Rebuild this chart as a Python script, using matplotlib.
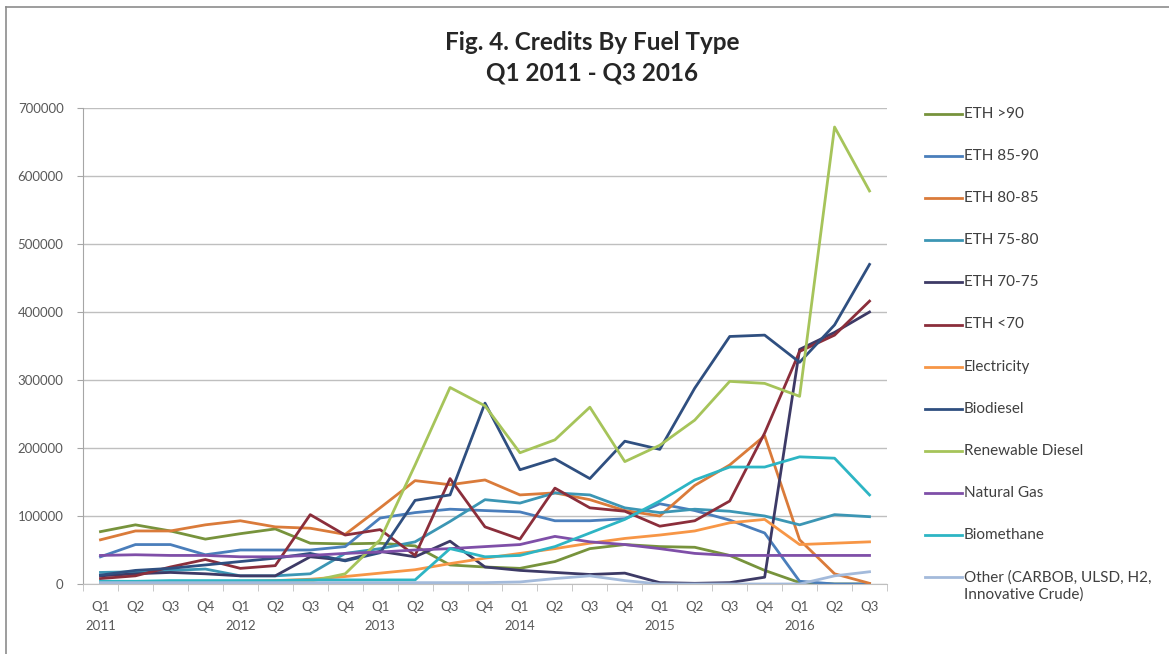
import numpy as np
import matplotlib
matplotlib.use("Agg")
import matplotlib.pyplot as plt
from matplotlib.lines import Line2D

plt.rcParams['font.family'] = ['Lato', 'DejaVu Sans']

# Quarterly periods, Q1 2011 .. Q3 2016
quarter_labels = ["Q1", "Q2", "Q3", "Q4"] * 5 + ["Q1", "Q2", "Q3"]
year_labels = ["2011", "2012", "2013", "2014", "2015", "2016"]

eth_gt90 = [77000, 87000, 78000, 66000, 74000, 81000, 60000, 59000, 60000, 56000,
            28000, 25000, 23000, 33000, 52000, 58000, 55000, 54000, 42000, 20000,
            2000, 0, 0]
eth_85_90 = [40000, 58000, 58000, 43000, 50000, 50000, 50000, 55000, 97000, 105000,
             110000, 108000, 106000, 93000, 93000, 96000, 118000, 108000, 94000, 75000,
             4000, 0, 0]
eth_80_85 = [65000, 78000, 78000, 87000, 93000, 84000, 82000, 73000, 112000, 152000,
             146000, 153000, 131000, 134000, 124000, 108000, 100000, 145000, 175000, 218000,
             65000, 15000, 1000]
eth_75_80 = [17000, 18000, 20000, 22000, 12000, 12000, 15000, 45000, 52000, 62000,
             92000, 124000, 119000, 134000, 131000, 112000, 105000, 110000, 107000, 100000,
             87000, 102000, 99000]
eth_70_75 = [12000, 15000, 17000, 15000, 12000, 12000, 40000, 35000, 48000, 40000,
             63000, 25000, 20000, 17000, 14000, 16000, 2000, 1000, 2000, 10000,
             345000, 370000, 400000]
eth_lt70 = [8000, 12000, 25000, 36000, 23000, 27000, 102000, 72000, 80000, 42000,
            155000, 84000, 66000, 141000, 112000, 107000, 85000, 93000, 122000, 222000,
            342000, 366000, 416000]
electricity = [1000, 1500, 2000, 3000, 4000, 5000, 7000, 11000, 16000, 21000,
               30000, 38000, 45000, 52000, 60000, 67000, 72000, 78000, 90000, 95000,
               58000, 60000, 62000]
biodiesel = [13000, 20000, 23000, 28000, 33000, 38000, 45000, 34000, 46000, 123000,
             131000, 266000, 168000, 184000, 155000, 210000, 198000, 288000, 364000, 366000,
             326000, 381000, 470000]
renewable_diesel = [3000, 3000, 3000, 3000, 3000, 3000, 4000, 15000, 65000, 175000,
                    289000, 262000, 193000, 212000, 260000, 180000, 204000, 241000, 298000, 295000,
                    276000, 672000, 578000]
natural_gas = [42000, 43000, 42000, 42000, 40000, 40000, 42000, 45000, 47000, 50000,
               52000, 55000, 58000, 70000, 62000, 58000, 52000, 45000, 42000, 42000,
               42000, 42000, 42000]
biomethane = [4000, 4000, 5000, 5000, 5000, 5000, 6000, 6000, 6000, 6000,
              52000, 40000, 42000, 55000, 75000, 95000, 122000, 153000, 172000, 172000,
              187000, 185000, 131000]
other = [2000, 2000, 2000, 2000, 2000, 2000, 2000, 2000, 2000, 2000,
         2000, 2000, 3000, 8000, 12000, 5000, 0, 0, 0, 0,
         0, 12000, 18000]

series = [
    ("ETH >90", eth_gt90, "#77933C"),
    ("ETH 85-90", eth_85_90, "#4A7EBB"),
    ("ETH 80-85", eth_80_85, "#DA7B3A"),
    ("ETH 75-80", eth_75_80, "#3C96B4"),
    ("ETH 70-75", eth_70_75, "#3D3A66"),
    ("ETH <70", eth_lt70, "#8B2E3B"),
    ("Electricity", electricity, "#F79646"),
    ("Biodiesel", biodiesel, "#2F4F80"),
    ("Renewable Diesel", renewable_diesel, "#A6C45A"),
    ("Natural Gas", natural_gas, "#7F4FA8"),
    ("Biomethane", biomethane, "#2DB5C4"),
    ("Other (CARBOB, ULSD, H2,\nInnovative Crude)", other, "#A3BADB"),
]

W, H = 1169, 654
fig = plt.figure(figsize=(W / 100, H / 100), dpi=100)
fig.patch.set_facecolor("white")

# outer chart frame (left and top edges visible)
fig.add_artist(Line2D([6 / W, 6 / W], [0, 1 - 7 / H], color="#8C8C8C", lw=1.2))
fig.add_artist(Line2D([6 / W, 1], [1 - 7 / H, 1 - 7 / H], color="#8C8C8C", lw=1.2))

ax_l, ax_r, ax_t, ax_b = 83, 887, 108, 584
ax = fig.add_axes([ax_l / W, 1 - ax_b / H, (ax_r - ax_l) / W, (ax_b - ax_t) / H])

x = np.arange(len(quarter_labels))
for name, vals, col in series:
    ax.plot(x, vals, color=col, lw=2.0, solid_joinstyle="round", label=name)

ax.set_xlim(-0.5, len(x) - 0.5)
ax.set_ylim(0, 700000)
ax.set_yticks(np.arange(0, 700001, 100000))
ax.set_yticklabels([f"{v:d}" for v in range(0, 700001, 100000)])
ax.yaxis.grid(True, color="#BFBFBF", lw=1.0)
ax.set_axisbelow(True)

for s in ["top", "right"]:
    ax.spines[s].set_visible(False)
ax.spines["left"].set_color("#A6A6A6")
ax.spines["bottom"].set_color("#BFBFBF")

ax.tick_params(axis="y", length=4, color="#A6A6A6", labelsize=9.5, labelcolor="#595959", pad=10)

# category labels with years under every Q1
xt = []
for i, q in enumerate(quarter_labels):
    if q == "Q1":
        xt.append(f"{q}\n{year_labels[i // 4]}")
    else:
        xt.append(f"{q}\n ")
ax.set_xticks(x)
ax.set_xticklabels(xt, linespacing=1.7)
ax.tick_params(axis="x", length=0, labelsize=9.5, labelcolor="#595959", pad=12)
ax.set_xticks(np.arange(-0.5, len(x), 1.0), minor=True)
ax.tick_params(axis="x", which="minor", length=5, color="#BFBFBF")

fig.text(592 / W, 1 - 42 / H, "Fig. 4. Credits By Fuel Type", ha="center", va="center",
         fontsize=17.5, fontweight="bold", color="#262626")
fig.text(592 / W, 1 - 73 / H, "Q1 2011 - Q3 2016", ha="center", va="center",
         fontsize=17.5, fontweight="bold", color="#262626")

# legend drawn column-wise at the right
ly0, dy = 114, 42.1
for k, (name, vals, col) in enumerate(series):
    y = ly0 + k * dy
    fig.add_artist(Line2D([925 / W, 962 / W], [1 - y / H, 1 - y / H], color=col, lw=2.0))
    for j, line in enumerate(name.split("\n")):
        fig.text(964 / W, 1 - (y + 17 * j) / H, line, ha="left", va="center",
                 fontsize=11, color="#404040")

fig.savefig("out.png", dpi=100, facecolor="white")
